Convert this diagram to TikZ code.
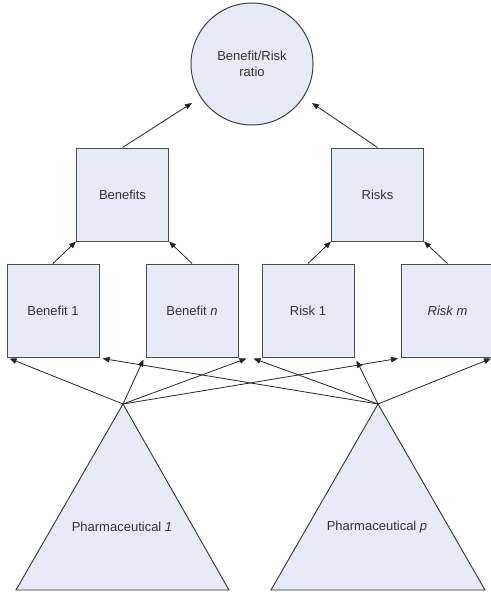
\documentclass[tikz,border=0pt]{standalone}
\usepackage{fontspec}
\setmainfont{Liberation Sans}
\usetikzlibrary{arrows.meta,positioning}
\definecolor{boxfill}{RGB}{230,236,247}

\begin{document}
\begin{tikzpicture}[
    x=1pt, y=-1pt,
    every node/.style={font=\fontsize{13}{16}\selectfont, text=black!80},
    measure/.style={draw=black!70, fill=boxfill, line width=1pt, minimum width=92pt, minimum height=93pt, inner sep=0pt, align=center},
    goal/.style={draw=black!75, fill=boxfill, line width=1pt, circle, minimum size=122pt, inner sep=0pt, align=center},
    drug/.style={draw=black!80, fill=boxfill, line width=0.9pt},
    arrow/.style={-{Triangle[length=7pt, width=5.5pt]}, draw=black!85, line width=0.8pt}
  ]
    \useasboundingbox (0,0) rectangle (490,594);

    % top of the hierarchy
    \node[goal] (ratio) at (252,64) {Benefit/Risk\\ratio};
    \coordinate (ratioL) at (192,103);
    \coordinate (ratioR) at (312,103);

    \node[measure] (benefits) at (122.5,194.5) {Benefits};
    \node[measure] (risks) at (377.5,194.5) {Risks};

    % single criteria
    \node[measure] (ben1) at (53,310.5) {Benefit 1};
    \node[measure, right=46pt of ben1] (benn) {Benefit \textit{n}};
    \node[measure, right=23pt of benn] (risk1) {Risk 1};
    \node[measure, right=46.5pt of risk1] (riskm) {\textit{Risk m}};

    % alternatives
    \draw[drug] (123,404) -- (229,590) -- (16,590) -- cycle;
    \draw[drug] (378,404) -- (485,590) -- (271,590) -- cycle;
    \coordinate (pharm1) at (123,404);
    \coordinate (pharmp) at (378,404);
    \node (pharm1label) at (122,527) {Pharmaceutical \textit{1}};
    \node (pharmplabel) at (377,527) {Pharmaceutical \textit{p}};

    \draw[arrow] (benefits.north) -- (ratioL);
    \draw[arrow] (risks.north) -- (ratioR);

    \draw[arrow] (ben1.north) -- (benefits.south west);
    \draw[arrow] (benn.north) -- (benefits.south east);
    \draw[arrow] (risk1.north) -- (risks.south west);
    \draw[arrow] (riskm.north) -- (risks.south east);

    \draw[arrow] (pharm1) -- ([shift={(3,1)}]ben1.south west);
    \draw[arrow] (pharm1) -- ([shift={(-2,2)}]benn.south west);
    \draw[arrow] (pharm1) -- ([shift={(8,1)}]benn.south east);
    \draw[arrow] (pharm1) -- ([shift={(-3,1)}]riskm.south west);

    \draw[arrow] (pharmp) -- ([shift={(3,1)}]ben1.south east);
    \draw[arrow] (pharmp) -- ([shift={(-8,1)}]risk1.south west);
    \draw[arrow] (pharmp) -- ([shift={(2,3)}]risk1.south east);
    \draw[arrow] (pharmp) -- ([shift={(-3,1)}]riskm.south east);
  \end{tikzpicture}
\end{document}
